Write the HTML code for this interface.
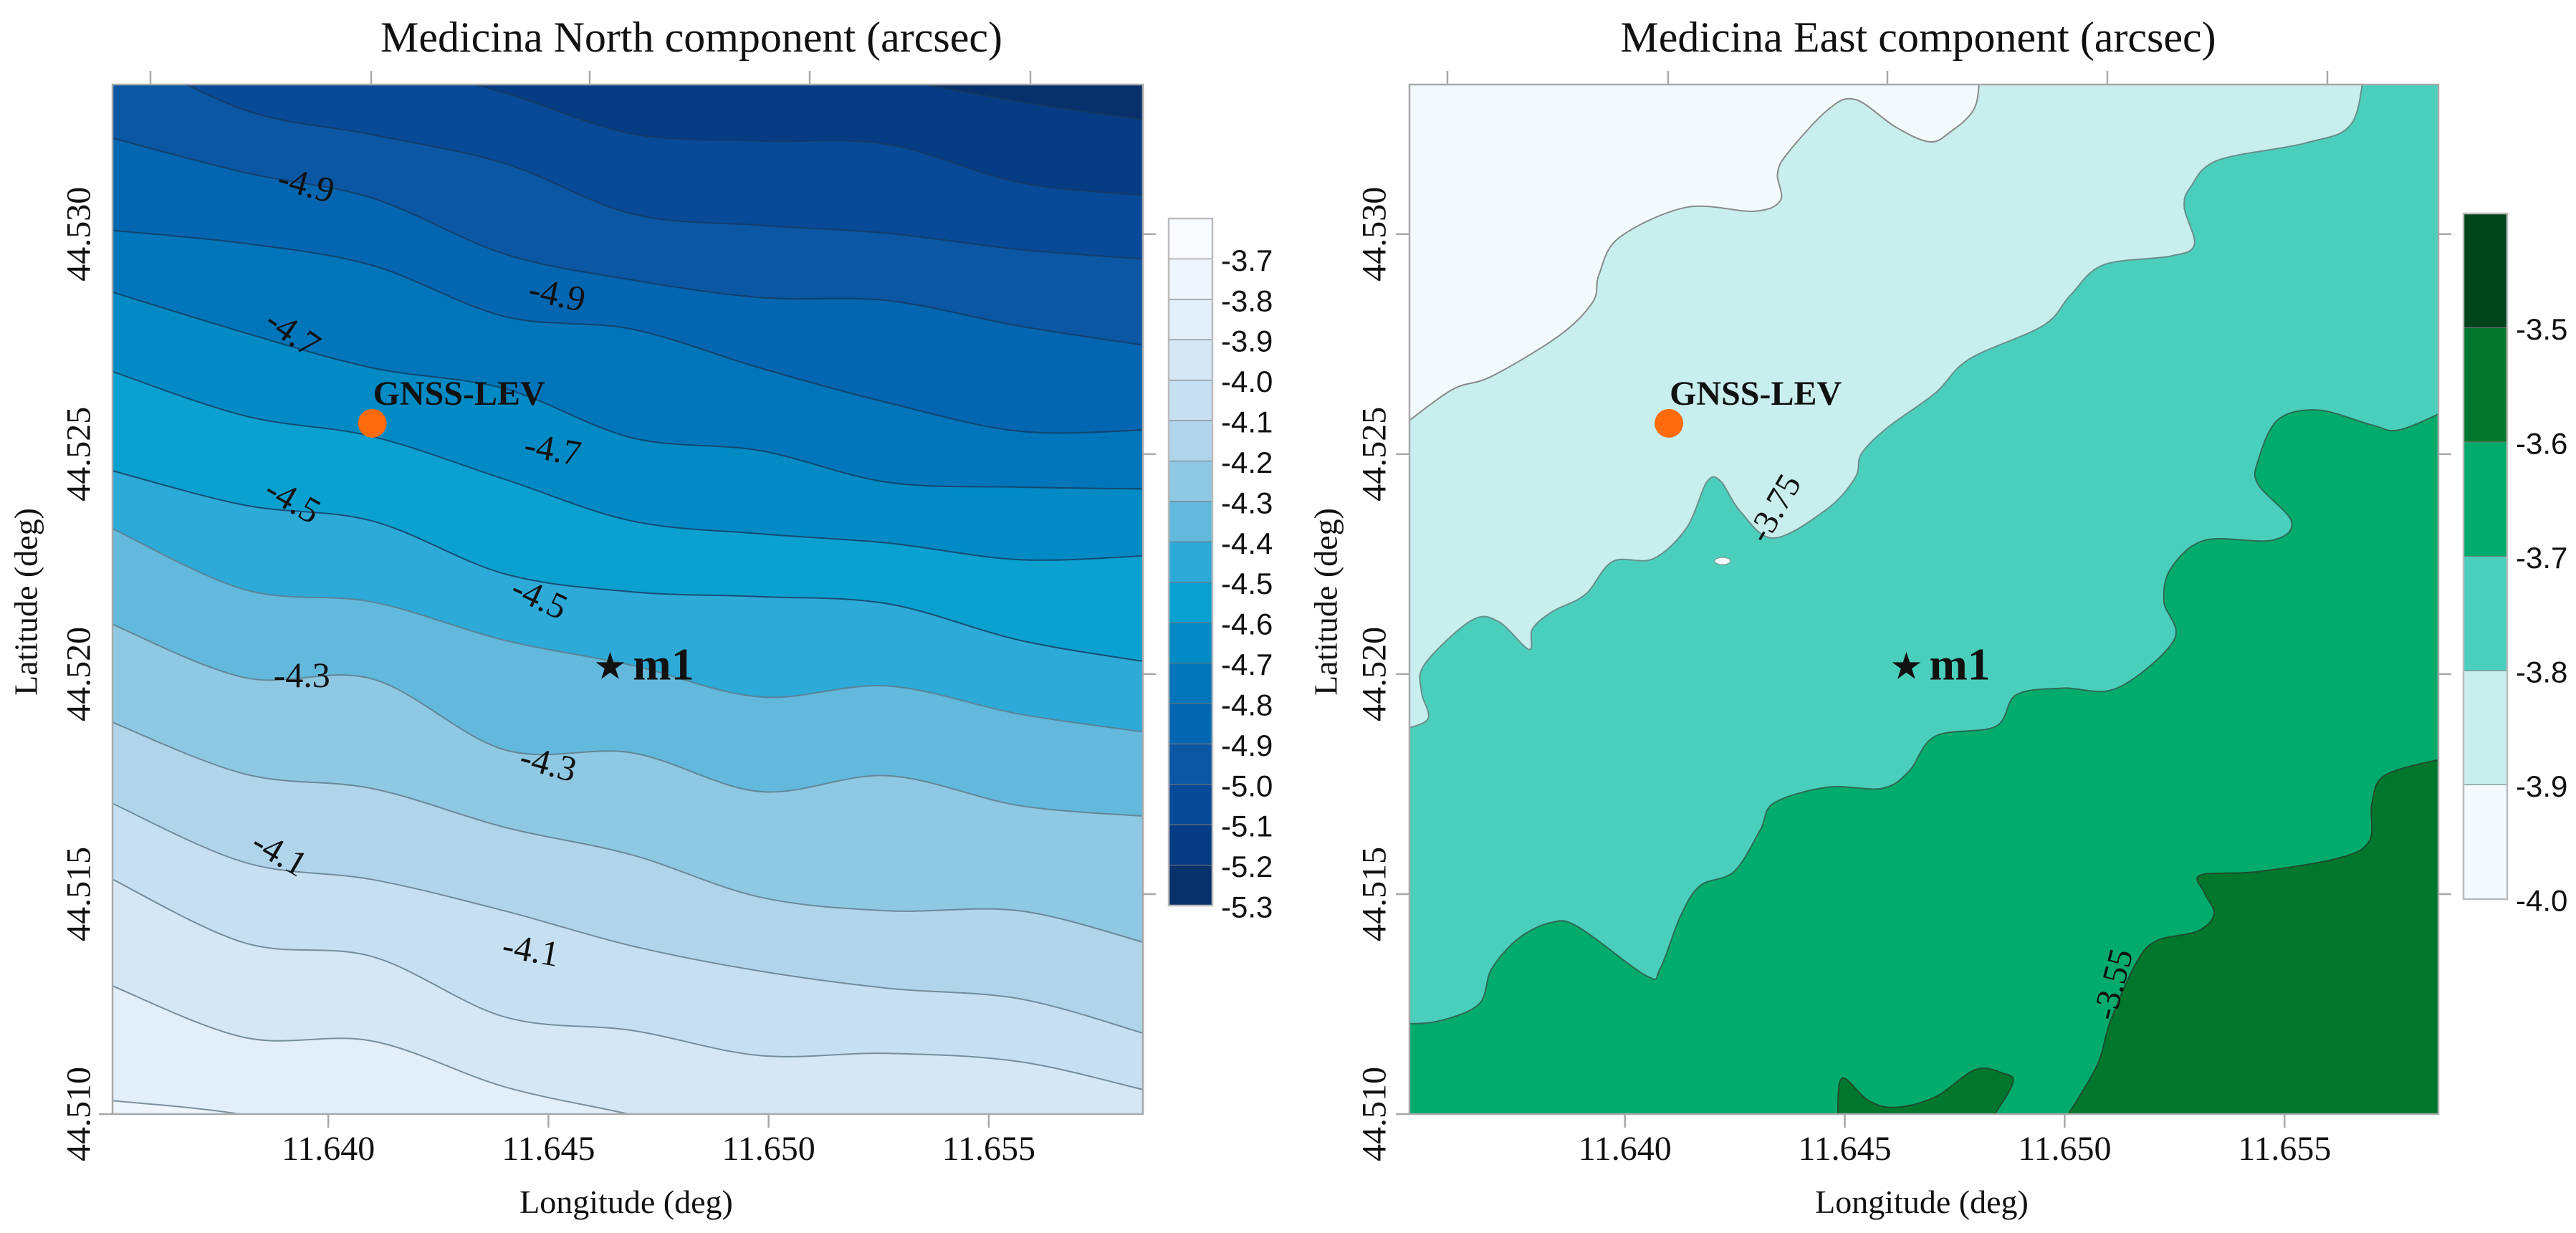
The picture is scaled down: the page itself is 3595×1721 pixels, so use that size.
<!DOCTYPE html>
<html><head><meta charset="utf-8"><title>Medicina North/East components</title>
<style>
html,body{margin:0;padding:0;background:#fff;}
svg{display:block;}
text{font-family:"Liberation Serif","DejaVu Serif",serif;fill:#111;}
.cb{font-family:"Liberation Sans","DejaVu Sans",sans-serif;}
</style></head>
<body>
<svg id="fig" xmlns="http://www.w3.org/2000/svg" width="3595" height="1721" viewBox="0 0 3595 1721">
  <rect x="0" y="0" width="3595" height="1721" fill="#ffffff"/>
  <defs>
    <clipPath id="clipN"><rect x="157" y="118" width="1438" height="1437"/></clipPath>
    <clipPath id="clipE"><rect x="1967" y="118" width="1436" height="1437"/></clipPath>
  </defs>
  <text x="965" y="72" font-size="60" text-anchor="middle">Medicina North component (arcsec)</text>
  <text x="2677" y="72" font-size="60" text-anchor="middle">Medicina East component (arcsec)</text>
  <g id="north"></g>
  <g id="east"></g>
</svg>
<script>
// ---------- shared axis data ----------
const lonTicks = [11.640, 11.645, 11.650, 11.655];
const lonTickLabels = ["11.640", "11.645", "11.650", "11.655"];
const latTicks = [44.510, 44.515, 44.520, 44.525, 44.530];
const latTickLabels = ["44.510", "44.515", "44.520", "44.525", "44.530"];
const lonDomain = [11.6351, 11.6585];
const latDomain = [44.5100, 44.5334];

// ---------- North component data ----------
const northLon = [11.6351, 11.6381, 11.6410, 11.6440, 11.6469, 11.6498, 11.6527, 11.6557, 11.6586];
const northLevels = [-5.2, -5.1, -5.0, -4.9, -4.8, -4.7, -4.6, -4.5, -4.4, -4.3, -4.2, -4.1, -4.0, -3.9, -3.8];
const nL52 = [44.53431, 44.53431, 44.53431, 44.53431, 44.53431, 44.53431, 44.53358, 44.53301, 44.53259];
const nL51 = [44.53431, 44.53431, 44.53399, 44.53321, 44.53228, 44.53212, 44.53204, 44.53117, 44.53088];
const nL50 = [44.53431, 44.53282, 44.53226, 44.53161, 44.53046, 44.53020, 44.53002, 44.52965, 44.52943];
const nL49 = [44.53220, 44.53140, 44.53082, 44.52955, 44.52896, 44.52856, 44.52849, 44.52791, 44.52747];
const nL48 = [44.53009, 44.52979, 44.52929, 44.52813, 44.52784, 44.52696, 44.52617, 44.52552, 44.52555];
const nL47 = [44.52870, 44.52776, 44.52696, 44.52649, 44.52537, 44.52508, 44.52436, 44.52425, 44.52421];
const nL46 = [44.52690, 44.52587, 44.52540, 44.52443, 44.52348, 44.52319, 44.52298, 44.52260, 44.52269];
const nL45 = [44.52464, 44.52384, 44.52348, 44.52228, 44.52187, 44.52176, 44.52160, 44.52077, 44.52028];
const nL44 = [44.52334, 44.52192, 44.52164, 44.52077, 44.52020, 44.51948, 44.51973, 44.51909, 44.51868];
const nL43 = [44.52116, 44.51992, 44.51989, 44.51828, 44.51821, 44.51733, 44.51769, 44.51701, 44.51677];
const nL42 = [44.51893, 44.51773, 44.51740, 44.51652, 44.51589, 44.51493, 44.51462, 44.51462, 44.51389];
const nL41 = [44.51709, 44.51572, 44.51533, 44.51462, 44.51382, 44.51325, 44.51286, 44.51262, 44.51182];
const nL40 = [44.51537, 44.51389, 44.51358, 44.51221, 44.51190, 44.51133, 44.51138, 44.51119, 44.51054];
const nL39 = [44.51294, 44.51174, 44.51166, 44.51062, 44.50998, 44.50927, 44.50894, 44.50862, 44.50829];
const nL38 = [44.51031, 44.50998, 44.50927, 44.50894, 44.50862, 44.50829, 44.50797, 44.50764, 44.50732];
const northLines = [nL52, nL51, nL50, nL49, nL48, nL47, nL46, nL45, nL44, nL43, nL42, nL41, nL40, nL39, nL38];
const northBandLabels = ["-3.7","-3.8","-3.9","-4.0","-4.1","-4.2","-4.3","-4.4","-4.5","-4.6","-4.7","-4.8","-4.9","-5.0","-5.1","-5.2","-5.3"];
const northBandColors = ["#f7fbff","#eef5fc","#e2eef9","#d5e7f5","#c6e0f2","#b0d5ea","#8fc8e2","#62b9dc","#2eaad8","#0aa0d0","#018ac4","#0075b9","#0466b0","#0b57a4","#084a97","#063c84","#08306b"];
const northLabelText = ["-4.9","-4.9","-4.7","-4.7","-4.5","-4.5","-4.3","-4.3","-4.1","-4.1"];
const northLabelLon = [11.6395, 11.6452, 11.6392, 11.6451, 11.6392, 11.6448, 11.6394, 11.6450, 11.6389, 11.6446];
const northLabelLat = [44.53114, 44.52864, 44.52777, 44.52512, 44.52396, 44.52175, 44.51998, 44.51798, 44.51594, 44.51374];
const northLabelRot = [15, 12, 35, 10, 30, 25, 0, 15, 30, 10];

// ---------- East component data ----------
const eastB1Lon = [11.64806, 11.64797, 11.64737, 11.64691, 11.64615, 11.64524, 11.64462, 11.64370, 11.64347, 11.64354, 11.64294, 11.64140, 11.63987, 11.63941, 11.63927, 11.63850, 11.63697, 11.63606, 11.63490];
const eastB1Lat = [44.53400, 44.53291, 44.53230, 44.53210, 44.53244, 44.53306, 44.53283, 44.53184, 44.53137, 44.53077, 44.53052, 44.53061, 44.52992, 44.52908, 44.52846, 44.52769, 44.52677, 44.52646, 44.52561];
const eastB2Lon = [11.65684, 11.65653, 11.65547, 11.65349, 11.65287, 11.65272, 11.65295, 11.65241, 11.65088, 11.65013, 11.64951, 11.64783, 11.64706, 11.64598, 11.64538, 11.64524, 11.64462, 11.64339, 11.64263, 11.64217, 11.64186, 11.64140, 11.64064, 11.63972, 11.63910, 11.63835, 11.63790, 11.63782, 11.63713, 11.63651, 11.63545, 11.63537, 11.63552, 11.63490];
const eastB2Lat = [44.53400, 44.53252, 44.53207, 44.53168, 44.53108, 44.53061, 44.52976, 44.52950, 44.52930, 44.52861, 44.52792, 44.52716, 44.52639, 44.52561, 44.52501, 44.52447, 44.52377, 44.52309, 44.52369, 44.52439, 44.52436, 44.52332, 44.52262, 44.52256, 44.52181, 44.52142, 44.52103, 44.52056, 44.52119, 44.52122, 44.52023, 44.51961, 44.51898, 44.51873];
const eastB3Lon = [11.65870, 11.65761, 11.65699, 11.65577, 11.65485, 11.65440, 11.65440, 11.65516, 11.65471, 11.65318, 11.65241, 11.65226, 11.65249, 11.65119, 11.64996, 11.64890, 11.64843, 11.64706, 11.64646, 11.64584, 11.64462, 11.64339, 11.64308, 11.64248, 11.64171, 11.64126, 11.64080, 11.64049, 11.63896, 11.63835, 11.63759, 11.63697, 11.63668, 11.63575, 11.63490];
const eastB3Lat = [44.52600, 44.52555, 44.52566, 44.52600, 44.52578, 44.52485, 44.52431, 44.52347, 44.52304, 44.52304, 44.52239, 44.52164, 44.52078, 44.51968, 44.51968, 44.51953, 44.51881, 44.51859, 44.51779, 44.51740, 44.51743, 44.51707, 44.51646, 44.51551, 44.51519, 44.51449, 44.51330, 44.51314, 44.51424, 44.51436, 44.51400, 44.51330, 44.51250, 44.51211, 44.51205];
const eastB4Lon = [11.65870, 11.65730, 11.65699, 11.65693, 11.65624, 11.65440, 11.65309, 11.65318, 11.65340, 11.65303, 11.65210, 11.65164, 11.65104, 11.65073, 11.64996];
const eastB4Lat = [44.51810, 44.51771, 44.51707, 44.51621, 44.51582, 44.51551, 44.51543, 44.51503, 44.51455, 44.51416, 44.51394, 44.51346, 44.51211, 44.51109, 44.50980];
const eastB5Lon = [11.64484, 11.64493, 11.64553, 11.64615, 11.64706, 11.64797, 11.64859, 11.64882, 11.64828];
const eastB5Lat = [44.50980, 44.51081, 44.51031, 44.51015, 44.51039, 44.51101, 44.51093, 44.51070, 44.50980];
const eastBandLabels = ["-3.5","-3.6","-3.7","-3.8","-3.9","-4.0"];
const eastBandColors = ["#00441b","#00772c","#00ab6b","#4bcfbd","#c8eeee","#f2fafc"];
const eastLabelText = ["-3.75", "-3.55"];
const eastLabelLon = [11.6434, 11.6511];
const eastLabelLat = [44.52377, 44.51295];
const eastLabelRot = [-60, -75];

// ---------- markers ----------
const gnssLon = 11.6410, gnssLat = 44.5257;
const m1Lon = 11.6464, m1Lat = 44.5202;

const NS = "http://www.w3.org/2000/svg";
function mk(parent, tag, attrs, txt){
  const e = document.createElementNS(NS, tag);
  for (const k in attrs) e.setAttribute(k, attrs[k]);
  if (txt !== undefined) e.textContent = txt;
  parent.appendChild(e);
  return e;
}
function makeAxes(px, py, pw, ph){
  return {
    x: lon => px + (lon - lonDomain[0]) / (lonDomain[1] - lonDomain[0]) * pw,
    y: lat => py + (latDomain[1] - lat) / (latDomain[1] - latDomain[0]) * ph,
    px, py, pw, ph
  };
}
function smooth(pts){
  let d = "M" + pts[0][0].toFixed(1) + "," + pts[0][1].toFixed(1);
  for (let i = 0; i < pts.length - 1; i++){
    const p0 = pts[i-1] || pts[i], p1 = pts[i], p2 = pts[i+1], p3 = pts[i+2] || pts[i+1];
    const c1x = p1[0] + (p2[0]-p0[0])/6, c1y = p1[1] + (p2[1]-p0[1])/6;
    const c2x = p2[0] - (p3[0]-p1[0])/6, c2y = p2[1] - (p3[1]-p1[1])/6;
    d += " C" + c1x.toFixed(1) + "," + c1y.toFixed(1) + " " + c2x.toFixed(1) + "," + c2y.toFixed(1) + " " + p2[0].toFixed(1) + "," + p2[1].toFixed(1);
  }
  return d;
}

function drawFrame(g, A, opts){
  const x0 = A.px, y0 = A.py, x1 = A.px + A.pw, y1 = A.py + A.ph;
  const f = mk(g, "rect", {x:x0, y:y0, width:A.pw, height:A.ph, fill:"none", stroke:"#a8a8a8", "stroke-width":2.5});
  
  
  opts.topTicks.forEach(tx => {
    const t = mk(g, "line", {x1:tx, x2:tx, y1:y0, y2:y0-19, stroke:"#a8a8a8", "stroke-width":2.5});
    
    
  });
  lonTicks.forEach((lon, i) => {
    const tx = A.x(lon);
    const t = mk(g, "line", {x1:tx, x2:tx, y1:y1, y2:y1+19, stroke:"#a8a8a8", "stroke-width":2.5});
    
    
    const l = mk(g, "text", {x:tx, y:1619, "font-size":48, "text-anchor":"middle"}, lonTickLabels[i]);
    
    
  });
  latTicks.forEach((lat, i) => {
    const ty = A.y(lat);
    if (lat > latDomain[0] + 0.001){
      const t = mk(g, "line", {x1:x1, x2:x1+18, y1:ty, y2:ty, stroke:"#a8a8a8", "stroke-width":2.5});
      
      
    }
    if (opts.leftTicks || lat <= latDomain[0] + 0.001){
      const t2 = mk(g, "line", {x1:x0-19, x2:x0, y1:ty, y2:ty, stroke:"#a8a8a8", "stroke-width":2.5});
      
      
    }
    const l = mk(g, "text", {x:opts.ylabX, y:ty, "font-size":48, "text-anchor":"middle", "dominant-baseline":"central", transform:"rotate(-90 " + opts.ylabX + " " + ty.toFixed(1) + ")"}, latTickLabels[i]);
    
    
  });
  const xt = mk(g, "text", {x:opts.xTitleX, y:1693, "font-size":46, "text-anchor":"middle"}, "Longitude (deg)");
  
  
  const yt = mk(g, "text", {x:opts.yTitleX, y:840, "font-size":46, "text-anchor":"middle", "dominant-baseline":"central", transform:"rotate(-90 " + opts.yTitleX + " 840)"}, "Latitude (deg)");
  
  
}

function drawColorbar(g, pre, cx, cy, cw, ch, colors, labels){
  const n = colors.length, bh = ch / n;
  colors.forEach((c, i) => {
    const r = mk(g, "rect", {x:cx, y:cy + i*bh, width:cw, height:bh, fill:c, stroke:"#777", "stroke-width":1});
    
    
    const t = mk(g, "text", {x:cx + cw + 12, y:cy + (i+1)*bh + 2, "font-size":42, "dominant-baseline":"central", "class":"cb"}, labels[i]);
    
    
  });
  const o = mk(g, "rect", {x:cx, y:cy, width:cw, height:ch, fill:"none", stroke:"#bbb", "stroke-width":2.5});
  
  
}

function drawMarkers(g, A, pre){
  const gx = A.x(gnssLon), gy = A.y(gnssLat);
  const c = mk(g, "ellipse", {cx:gx, cy:gy, rx:20, ry:20, fill:"#ff6a0d"});
  
  
  const ct = mk(g, "text", {x:gx + 1, y:gy - 26, "font-size":48, "font-weight":"bold"}, "GNSS-LEV");
  
  
  const mx = A.x(m1Lon), my = A.y(m1Lat);
  const s = mk(g, "text", {x:mx, y:my + 2, "font-size":52, "text-anchor":"middle", "dominant-baseline":"central", style:"font-family:'DejaVu Sans',sans-serif"}, "\u2605");
  
  
  const st = mk(g, "text", {x:mx + 32, y:my + 20, "font-size":64, "font-weight":"bold"}, "m1");
  
  
}

// ---------- North chart ----------
(function(){
  const g = document.getElementById("north");
  const A = makeAxes(157, 118, 1438, 1437);
  const x0 = A.px, y0 = A.py, x1 = A.px + A.pw, y1 = A.py + A.ph;
  const cg = mk(g, "g", {"clip-path":"url(#clipN)"});
  
  
  const bg = mk(cg, "rect", {x:x0, y:y0, width:A.pw, height:A.ph, fill:northBandColors[16]});
  
  
  const strokes = [];
  northLines.forEach((lats, i) => {
    const v = northLevels[i];
    const k = Math.round((-3.7 - v) / 0.1);
    const pts = northLon.map((lon, j) => [A.x(lon), A.y(lats[j])]);
    pts[0][0] = x0 - 4; pts[pts.length-1][0] = x1 + 4;
    const line = smooth(pts);
    const f = mk(cg, "path", {d: line + " L" + (x1+6) + "," + (y1+6) + " L" + (x0-6) + "," + (y1+6) + " Z", fill:northBandColors[k]});
    
    
    strokes.push([line, v]);
  });
  strokes.forEach(([line, v]) => {
    const s = mk(cg, "path", {d:line, fill:"none", stroke: v < -4.45 ? "#173a5e" : "#5f7886", "stroke-width":2, "stroke-opacity":0.8});
    
    
  });
  northLabelText.forEach((t, i) => {
    const lx = A.x(northLabelLon[i]), ly = A.y(northLabelLat[i]);
    const e = mk(cg, "text", {x:lx, y:ly, "font-size":50, "text-anchor":"middle", "dominant-baseline":"central", transform:"rotate(" + northLabelRot[i] + " " + lx.toFixed(1) + " " + ly.toFixed(1) + ")"}, t);
    
    
  });
  drawFrame(g, A, {pre:"north", topTicks:[210, 518, 823, 1130, 1438], ylabX:110, xTitleX:874, yTitleX:36, leftTicks:false});
  drawColorbar(g, "north", 1631, 305, 61, 959, northBandColors, northBandLabels);
  drawMarkers(g, A, "north");
})();

// ---------- East chart ----------
(function(){
  const g = document.getElementById("east");
  const A = makeAxes(1967, 118, 1436, 1437);
  const x0 = A.px, y0 = A.py, x1 = A.px + A.pw, y1 = A.py + A.ph;
  const cg = mk(g, "g", {"clip-path":"url(#clipE)"});
  
  
  const bg = mk(cg, "rect", {x:x0, y:y0, width:A.pw, height:A.ph, fill:eastBandColors[5]});
  
  
  const pts = (lons, lats) => lons.map((lon, j) => [A.x(lon), A.y(lats[j])]);
  const b1 = smooth(pts(eastB1Lon, eastB1Lat));
  const b2 = smooth(pts(eastB2Lon, eastB2Lat));
  const b3 = smooth(pts(eastB3Lon, eastB3Lat));
  const b4 = smooth(pts(eastB4Lon, eastB4Lat));
  const b5 = smooth(pts(eastB5Lon, eastB5Lat));
  const BL = " L" + (x0-8) + "," + (y1+8), BR = " L" + (x1+8) + "," + (y1+8), TR = " L" + (x1+8) + "," + (y0-8);
  const fills = [
    [b1 + BL + BR + TR + " Z", eastBandColors[4], "east-band-3.9"],
    [b2 + BL + BR + TR + " Z", eastBandColors[3], "east-band-3.8"],
    [b3 + BL + BR + " Z", eastBandColors[2], "east-band-3.7"],
    [b4 + BR + " Z", eastBandColors[1], "east-band-3.6"],
    [b5 + " Z", eastBandColors[1], "east-band-3.6-patch"]
  ];
  fills.forEach(([d, c, name]) => {
    const f = mk(cg, "path", {d:d, fill:c});
    
    
  });
  const hole = mk(cg, "ellipse", {cx:A.x(11.64222), cy:A.y(44.52257), rx:11, ry:5, fill:"#f2fafc", stroke:"#888", "stroke-width":1});
  
  
  [[b1, "#8a8a8a"], [b2, "#6a8f8a"], [b3, "#2d6b55"], [b4, "#1d4d2e"], [b5, "#1d4d2e"]].forEach(([d, c]) => {
    const s = mk(cg, "path", {d:d, fill:"none", stroke:c, "stroke-width":2});
    
    
  });
  eastLabelText.forEach((t, i) => {
    const lx = A.x(eastLabelLon[i]), ly = A.y(eastLabelLat[i]);
    const e = mk(cg, "text", {x:lx, y:ly, "font-size":48, "text-anchor":"middle", "dominant-baseline":"central", transform:"rotate(" + eastLabelRot[i] + " " + lx.toFixed(1) + " " + ly.toFixed(1) + ")"}, t);
    
    
  });
  drawFrame(g, A, {pre:"east", topTicks:[2020, 2328, 2634, 2941, 3248], ylabX:1918, xTitleX:2682, yTitleX:1850, leftTicks:true});
  drawColorbar(g, "east", 3438, 298, 61, 957, eastBandColors, eastBandLabels);
  drawMarkers(g, A, "east");
})();
</script>
</body></html>
